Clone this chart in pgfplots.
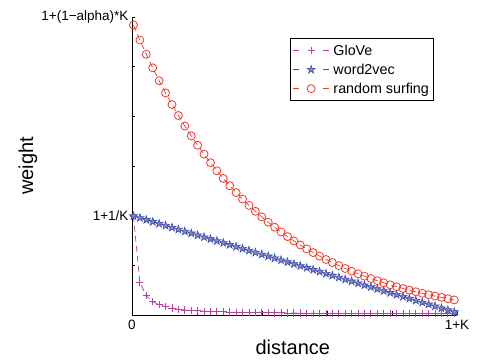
\documentclass[border=0pt]{standalone}
\usepackage{pgfplots}
\pgfplotsset{compat=1.18}
\usepackage{pgfplotstable}
\usepackage{fontspec}
\setmainfont{Liberation Sans}
\definecolor{cglove}{HTML}{B444A4}
\definecolor{cw2v}{HTML}{3F4EA6}
\definecolor{cw2vfill}{HTML}{7F8AC8}
\definecolor{crs}{HTML}{EE3A2A}
\pgfdeclareplotmark{pentagram}{%
  \pgfpathmoveto{\pgfpointpolar{90}{\pgfplotmarksize}}%
  \pgfpathlineto{\pgfpointpolar{126}{0.382\pgfplotmarksize}}%
  \pgfpathlineto{\pgfpointpolar{162}{\pgfplotmarksize}}%
  \pgfpathlineto{\pgfpointpolar{198}{0.382\pgfplotmarksize}}%
  \pgfpathlineto{\pgfpointpolar{234}{\pgfplotmarksize}}%
  \pgfpathlineto{\pgfpointpolar{270}{0.382\pgfplotmarksize}}%
  \pgfpathlineto{\pgfpointpolar{306}{\pgfplotmarksize}}%
  \pgfpathlineto{\pgfpointpolar{342}{0.382\pgfplotmarksize}}%
  \pgfpathlineto{\pgfpointpolar{18}{\pgfplotmarksize}}%
  \pgfpathlineto{\pgfpointpolar{54}{0.382\pgfplotmarksize}}%
  \pgfpathclose
  \pgfusepathqfillstroke}

\pgfplotstableread{
i glove w2v rs
0 99.0 99.00 290.0
1 32.3 97.08 275.0
2 19.3 95.16 260.7
3 13.3 93.24 247.2
4 10.3 91.32 234.3
5 8.3 89.40 222.1
6 7.0 87.48 210.5
7 5.8 85.56 199.5
8 5.0 83.64 189.0
9 4.5 81.72 179.1
10 4.1 79.80 169.7
11 3.8 77.88 160.8
12 3.5 75.96 152.3
13 3.3 74.04 144.2
14 3.1 72.12 136.6
15 2.9 70.20 129.3
16 2.8 68.28 122.4
17 2.6 66.36 115.9
18 2.5 64.44 109.6
19 2.4 62.52 103.7
20 2.3 60.60 98.1
21 2.2 58.68 92.8
22 2.1 56.76 87.8
23 2.1 54.84 83.0
24 2.0 52.92 78.4
25 1.9 51.00 74.1
26 1.9 49.08 70.0
27 1.8 47.16 66.1
28 1.8 45.24 62.4
29 1.7 43.32 58.9
30 1.7 41.40 55.5
31 1.7 39.48 52.4
32 1.6 37.56 49.4
33 1.6 35.64 46.5
34 1.6 33.72 43.8
35 1.5 31.80 41.2
36 1.5 29.88 38.8
37 1.5 27.96 36.5
38 1.4 26.04 34.3
39 1.4 24.12 32.2
40 1.4 22.20 30.2
41 1.4 20.28 28.3
42 1.4 18.36 26.5
43 1.3 16.44 24.8
44 1.3 14.52 23.2
45 1.3 12.60 21.7
46 1.3 10.68 20.3
47 1.3 8.76 18.9
48 1.3 6.84 17.6
49 1.2 4.92 16.3
50 1.2 3.00 15.1
}\datatable

\begin{document}
\begin{tikzpicture}
\path[use as bounding box] (-132bp,-48bp) rectangle (356bp,315bp);
\begin{axis}[
  at={(0,0)}, anchor=south west, scale only axis,
  width=325bp, height=298bp,
  xmin=-0.23, xmax=50.42, ymin=0, ymax=298,
  axis lines*=left,
  axis line style={black, line width=0.8bp},
  clip=false,
  tick align=inside,
  major tick length=3.5bp,
  tick style={black, line width=0.7bp},
  xtick={-0.23,9.90,20.03,30.16,40.29,50.42},
  xticklabels={0,,,,,1+K},
  ytick={0,49.67,99.33,149,198.67,248.33,298},
  yticklabels={,,1+1/K,,,,1+(1−alpha)*K},
  /pgf/number format/assume math mode=true,
  ticklabel style={font=\fontsize{13.5bp}{16bp}\selectfont},
  xticklabel style={yshift=-1.5bp},
  label style={font=\fontsize{20bp}{24bp}\selectfont},
  xlabel={distance},
  ylabel={weight},
  xlabel style={at={(axis description cs:0.495,-0.107)}, anchor=center},
  ylabel style={at={(axis description cs:-0.32,0.5)}, anchor=center},
  legend style={at={(0.486,0.9285)}, anchor=north west, draw=black, line width=0.7bp,
    font=\fontsize{14.3bp}{16bp}\selectfont, cells={anchor=west},
    row sep=3.2bp, column sep=2bp, inner ysep=4bp, inner xsep=2.5bp},
  legend image code/.code={%
    \draw[mark repeat=2,mark phase=2,#1, dash pattern=on 6bp off 24bp]
      plot coordinates {(0bp,0bp) (18bp,0bp) (36bp,0bp)};},
]
\addplot[cglove, line width=0.7bp, dash pattern=on 6bp off 4bp,
  mark=+, mark size=3.6bp, mark options={solid, line width=0.8bp}]
  table[x=i, y=glove] {\datatable};
\addlegendentry{GloVe}
\addplot[cw2v, line width=0.7bp, dash pattern=on 6bp off 4bp,
  mark=pentagram, mark size=4.2bp, mark options={solid, line width=0.6bp, fill=cw2vfill}]
  table[x=i, y=w2v] {\datatable};
\addlegendentry{word2vec}
\addplot[crs, line width=0.7bp, dash pattern=on 6bp off 4bp,
  mark=o, mark size=4bp, mark options={solid, line width=0.8bp}]
  table[x=i, y=rs] {\datatable};
\addlegendentry{random surfing}
\end{axis}
\end{tikzpicture}
\end{document}
